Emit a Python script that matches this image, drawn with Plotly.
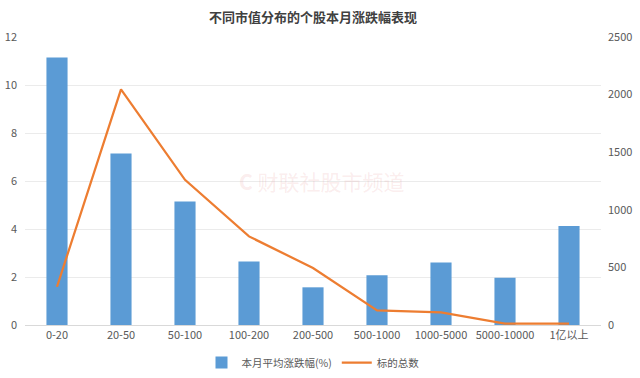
import plotly.graph_objects as go

categories = ["0-20", "20-50", "50-100", "100-200", "200-500", "500-1000", "1000-5000", "5000-10000", "1亿以上"]
avg_change = [11.15, 7.15, 5.15, 2.65, 1.57, 2.07, 2.6, 1.97, 4.12]
stock_count = [332, 2045, 1260, 769, 495, 127, 109, 11, 11]
left_ticks = [0, 2, 4, 6, 8, 10, 12]
right_ticks = [0, 500, 1000, 1500, 2000, 2500]

font_family = "Noto Sans CJK SC, Noto Sans, sans-serif"

fig = go.Figure()
fig.add_trace(go.Bar(
    x=categories, y=avg_change, name="本月平均涨跌幅(%)",
    marker=dict(color="#5B9BD5", line=dict(width=0)), width=0.33, yaxis="y",
))
fig.add_trace(go.Scatter(
    x=categories, y=stock_count, name="标的总数", mode="lines",
    line=dict(color="#ED7D31", width=2.25), yaxis="y2",
))

fig.update_layout(
    width=640, height=378,
    margin=dict(l=25, r=39, t=37, b=53, autoexpand=False),
    paper_bgcolor="white", plot_bgcolor="white",
    font=dict(family=font_family, size=11, color="#595959"),
    title=dict(text="<b>不同市值分布的个股本月涨跌幅表现</b>", x=0.5, xanchor="center",
               xref="paper", y=0.955, yanchor="middle", font=dict(size=13, color="#404040"),
               automargin=False),
    xaxis=dict(showgrid=False, showline=True, linecolor="#D9D9D9", linewidth=1,
               ticks="", tickfont=dict(size=11, color="#595959"), automargin=False),
    yaxis=dict(range=[0, 12], tickvals=left_ticks, showgrid=True, gridcolor="#EBEBEB",
               gridwidth=1, zeroline=False, ticks="", tickfont=dict(size=11, color="#595959"),
               ticklabelstandoff=7, automargin=False),
    yaxis2=dict(range=[0, 2500], tickvals=right_ticks, overlaying="y", side="right",
                showgrid=False, zeroline=False, ticks="", tickfont=dict(size=11, color="#595959"),
                ticklabelstandoff=6, automargin=False),
    legend=dict(orientation="h", x=0.5, xanchor="center", y=-0.08, yanchor="top",
                font=dict(size=10.5, color="#595959"), itemwidth=30, tracegroupgap=0),
    bargap=0.67,
    annotations=[dict(text="<b>C</b> 财联社股市频道", x=0.515, y=0.5, xref="paper", yref="paper",
                      showarrow=False, font=dict(size=21, color="rgba(230,150,150,0.18)"))],
)

fig.write_html("out.html", config={"displayModeBar": False},
               post_script="document.body.style.margin='0';document.body.style.overflow='hidden';")
